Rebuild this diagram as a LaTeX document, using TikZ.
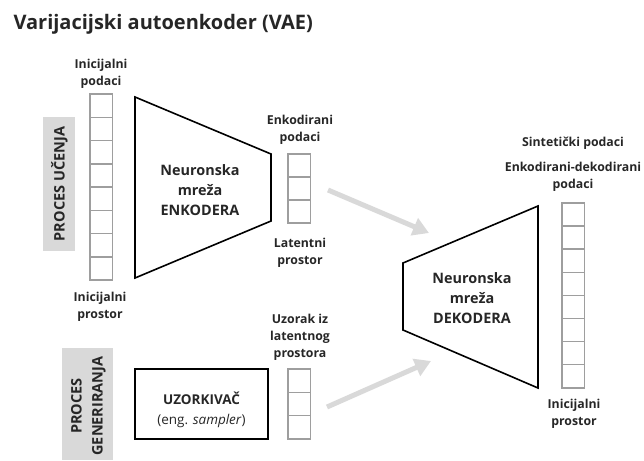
\documentclass[tikz,border=0pt]{standalone}
\usepackage{fontspec}
\setmainfont{Open Sans}
\usetikzlibrary{arrows.meta}
\def\cellcolumn[#1](#2,#3)(#4:#5){\foreach \k in {1,...,#4} {\draw[#1] (#2, {#3+(\k-1)*#5}) rectangle ++(22.5, #5);}}

\begin{document}
\begin{tikzpicture}[x=1pt, y=-1pt,
		cell/.style={draw=black!38, line width=1.5pt},
		lbl/.style={font=\fontsize{12.3}{17}\selectfont\bfseries, align=center, text=black!85},
		net/.style={font=\fontsize{14.4}{20}\selectfont\bfseries, align=center, text=black!85},
		proc/.style={font=\fontsize{14.5}{21}\selectfont\bfseries, align=center, text=black!85, rotate=90},
		flow/.style={draw=black!15, line width=5pt, -{Triangle[width=18pt,length=16pt]}}]
			%%%%% START %%%%%
			
			\useasboundingbox (0, 0) rectangle (644, 460);
			
			\node[anchor=west, font=\fontsize{20}{24}\selectfont\bfseries, text=black!85] (title) at (10, 24) {Varijacijski autoenkoder (VAE)};
			
			% proces ucenja
			\fill[black!15] (43, 117) rectangle (75, 251);
			\node[proc] (ucenje) at (59.5, 184) {PROCES UČENJA};
			
			\cellcolumn[cell](90,94)(8:23.25)
			\node[lbl] (ulazPod) at (101, 73.5) {Inicijalni\\podaci};
			\node[lbl] (ulazPr) at (100, 306.5) {Inicijalni\\prostor};
			
			\draw[line width=1.6pt, line join=miter] (135, 97) -- (271, 154) -- (271, 221) -- (135, 278) -- cycle;
			\node[net] (enkoder) at (200, 190) {Neuronska\\mreža\\ENKODERA};
			
			\cellcolumn[cell](288,154)(3:23)
			\node[lbl] (enkPod) at (300, 129.5) {Enkodirani\\podaci};
			\node[lbl] (latent) at (300, 252.5) {Latentni\\prostor};
			
			% proces generiranja
			\fill[black!15] (62, 348) rectangle (113, 460);
			\node[proc] (generiranje) at (88.5, 406) {PROCES\\GENERIRANJA};
			
			\node[draw, line width=1.6pt, minimum width=133pt, minimum height=70pt] (uzorkivac) at (201.5, 404) {};
			\node[align=center, font=\fontsize{13.5}{20}\selectfont, text=black!85] (uzorkivacTxt) at (201.5, 410) {\textbf{UZORKIVAČ}\\(eng. \textit{sampler})};
			
			\cellcolumn[cell](288,369)(3:23.3)
			\node[lbl] (uzorak) at (300, 337.5) {Uzorak iz\\latentnog\\prostora};
			
			% dekoder
			\draw[line width=1.6pt, line join=miter] (538, 206) -- (403, 263) -- (403, 330) -- (538, 388) -- cycle;
			\node[net] (dekoder) at (472, 298) {Neuronska\\mreža\\DEKODERA};
			
			\cellcolumn[cell](562,203)(8:23.1)
			\node[lbl] (sint) at (573, 143) {Sintetički podaci};
			\node[lbl] (izlazPod) at (573, 177) {Enkodirani-dekodirani\\podaci};
			\node[lbl] (izlazPr) at (574, 414) {Inicijalni\\prostor};
			
			\coordinate (gornjiA) at (328, 190);
			\coordinate (gornjiB) at (429, 233);
			\coordinate (donjiA) at (327, 407);
			\coordinate (donjiB) at (431, 361);
			\draw[flow] (gornjiA) -- (gornjiB);
			\draw[flow] (donjiA) -- (donjiB);
			
			%%%%% END %%%%%
		\end{tikzpicture}
\end{document}
